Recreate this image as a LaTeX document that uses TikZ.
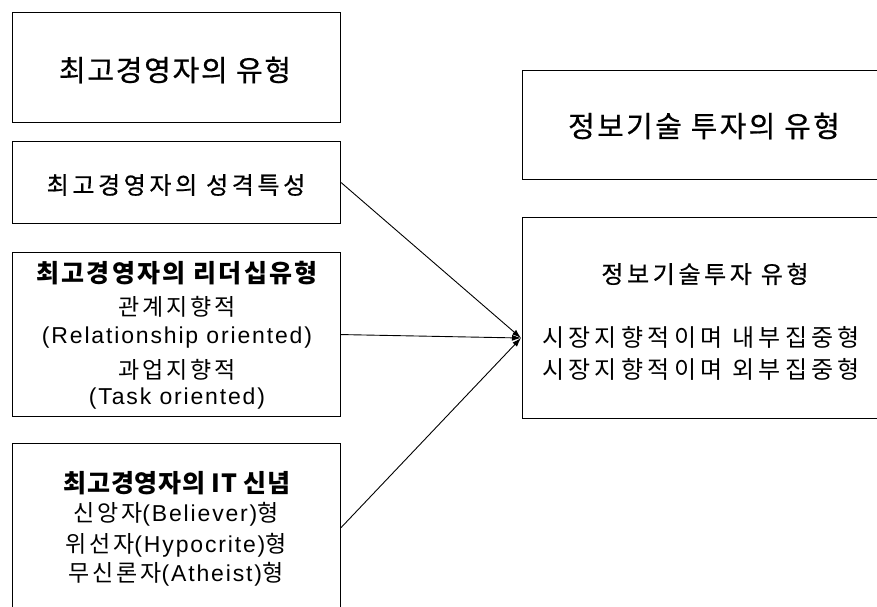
\documentclass[tikz,border=0pt]{standalone}
\usepackage{fontspec}
\setmainfont{Liberation Sans}
\newfontfamily\ko{Noto Sans CJK KR}
\newfontfamily\la{Liberation Sans}
\usetikzlibrary{arrows.meta}
\newcommand\kt[3]{{\fontsize{#1pt}{#1pt}\ko\addfontfeatures{LetterSpace=#2}#3}}
\newcommand\ktm[3]{{\fontsize{#1pt}{#1pt}\ko\addfontfeatures{LetterSpace=#2,FakeBold=0.6}#3}}
\newcommand\ktb[3]{{\fontsize{#1pt}{#1pt}\ko\bfseries\addfontfeatures{LetterSpace=#2}#3}}
\newcommand\lt[1]{{\fontsize{23pt}{23pt}\la\addfontfeatures{LetterSpace=8}#1}}
\tikzset{
  box/.style={draw=black, line width=1.1pt, rectangle, inner sep=0pt, anchor=north west},
  txt/.style={inner sep=0pt, anchor=center},
  conn/.style={line width=0.9pt, -{Latex[length=9pt,width=6pt]}}
}
\begin{document}
\begin{tikzpicture}[x=1pt,y=-1pt]
\useasboundingbox (0,0) rectangle (877,606);
\fill[white] (0,0) rectangle (877,606);
\clip (0,0) rectangle (877,606);
% left boxes
\node[box, minimum width=328pt, minimum height=110pt] (b1) at (12,12) {};
\node[box, minimum width=328pt, minimum height=82pt] (b2) at (12,141) {};
\node[box, minimum width=328pt, minimum height=164pt] (b3) at (12,252) {};
\node[box, minimum width=328pt, minimum height=168pt] (b4) at (12,443) {};
% right boxes
\node[box, minimum width=362pt, minimum height=109pt] (ra) at (522,70) {};
\node[box, minimum width=362pt, minimum height=201pt] (rb) at (522,217) {};
% texts
\node[txt] (t1) at (175,70) {\ktm{29}{6}{최고경영자의 유형}};
\node[txt] (t2) at (176,185) {\ktm{24}{15}{최고경영자의 성격특성}};
\node[txt] (t3a) at (177,273) {\ktb{25}{9}{최고경영자의 리더십유형}};
\node[txt] (t3b) at (177,307) {\kt{23}{12}{관계지향적}};
\node[txt] (t3c) at (177,338) {\lt{(Relationship oriented)}};
\node[txt] (t3d) at (177,370) {\kt{23}{12}{과업지향적}};
\node[txt] (t3e) at (177,399) {\lt{(Task oriented)}};
\node[txt] (t4a) at (177,483) {\ktb{25}{3}{최고경영자의 IT 신념}};
\node[txt] (t4b) at (176,514) {\kt{23}{12}{신앙자}\lt{(Believer)}\kt{23}{0}{형}};
\node[txt] (t4c) at (176,545) {\kt{23}{12}{위선자}\lt{(Hypocrite)}\kt{23}{0}{형}};
\node[txt] (t4d) at (176,574) {\kt{23}{12}{무신론자}\lt{(Atheist)}\kt{23}{0}{형}};
\node[txt] (ta) at (704,126) {\ktm{29}{8}{정보기술 투자의 유형}};
\node[txt] (tb1) at (705,274) {\ktm{24}{15}{정보기술투자 유형}};
\node[txt] (tb2) at (701,337) {\kt{24}{18}{시장지향적이며 내부집중형}};
\node[txt] (tb3) at (701,369) {\kt{24}{18}{시장지향적이며 외부집중형}};
% connectors
\coordinate (tip) at (521,338);
\draw[conn] (b2.east) -- (tip);
\draw[conn] (b3.east) -- (tip);
\draw[conn] (b4.east) -- (tip);
\end{tikzpicture}
\end{document}
